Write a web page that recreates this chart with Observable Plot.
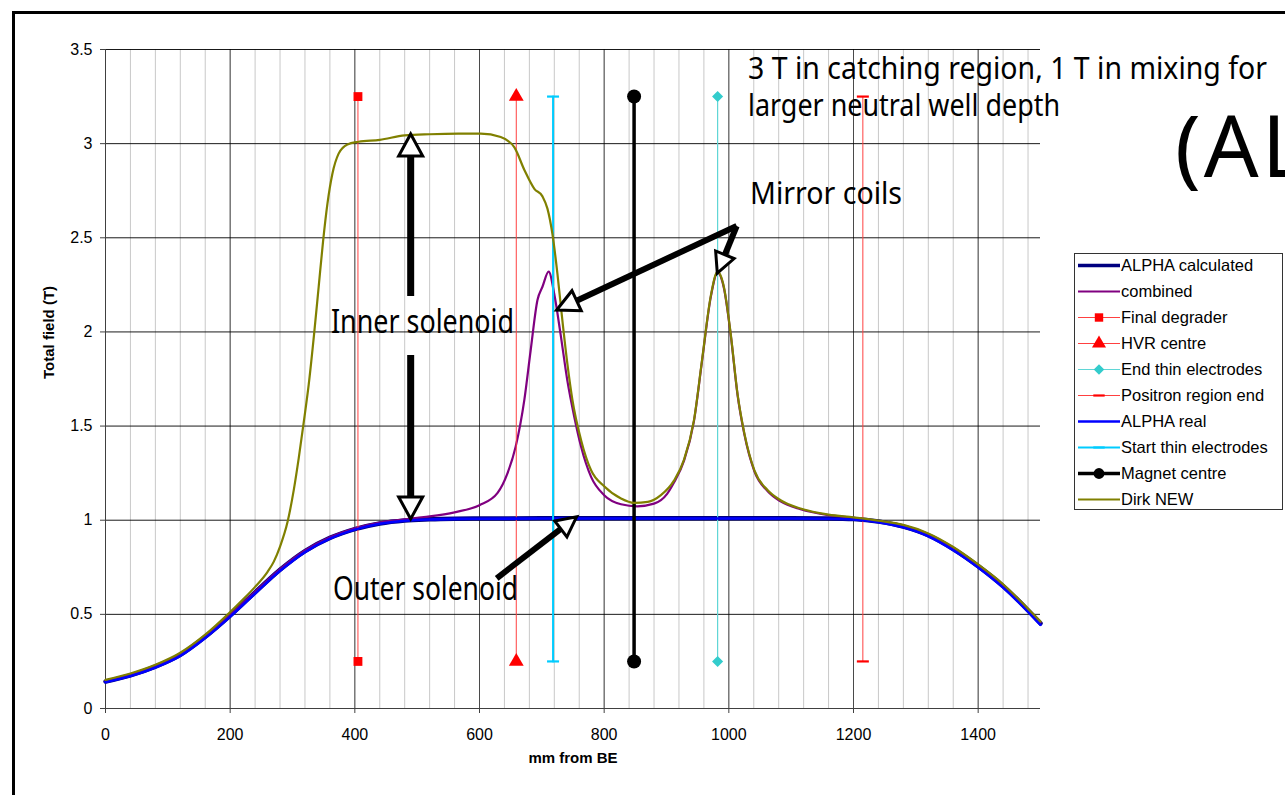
<!DOCTYPE html>
<html>
<head>
<meta charset="utf-8">
<script src="https://cdn.jsdelivr.net/npm/d3@7"></script>
<script src="https://cdn.jsdelivr.net/npm/@observablehq/plot@0.6"></script>
<style>
  html, body { margin: 0; padding: 0; background: #fff; }
  #chart { width: 1285px; height: 795px; overflow: hidden; }
</style>
</head>
<body>
<div id="chart"></div>
<script>
// ---------------- DATA ----------------
const xOuter = [0,40,80,120,160,200,240,280,320,360,400,440,480,520,560,600,700,800,900,1000,1100,1160,1200,1240,1280,1320,1360,1400,1440,1480,1500];
const alphaCalculated = [0.143,0.176,0.222,0.285,0.381,0.494,0.617,0.737,0.836,0.906,0.953,0.983,0.999,1.005,1.008,1.009,1.010,1.010,1.010,1.010,1.010,1.009,1.006,0.993,0.966,0.920,0.847,0.756,0.650,0.522,0.452];
const alphaReal = [0.140,0.172,0.218,0.280,0.375,0.488,0.611,0.731,0.831,0.902,0.950,0.981,0.997,1.004,1.007,1.008,1.009,1.009,1.009,1.009,1.009,1.008,1.004,0.990,0.962,0.915,0.841,0.749,0.642,0.514,0.444];

const xCombined = [0,40,80,120,160,200,240,280,320,360,400,440,480,500,520,560,600,629,645,658,672,682,693,701,711,720,730,741,752,763,779,800,827,853,880,901,912,928,944,957,971,982,992,1003,1014,1025,1041,1062,1083,1115,1160,1200,1240,1280,1320,1360,1400,1440,1480,1500];
const combined = [0.146,0.179,0.225,0.288,0.384,0.497,0.62,0.74,0.839,0.909,0.957,0.988,1.004,1.012,1.02,1.042,1.08,1.145,1.25,1.39,1.64,1.90,2.17,2.24,2.32,2.20,1.99,1.74,1.55,1.39,1.23,1.133,1.085,1.074,1.088,1.14,1.20,1.315,1.525,1.845,2.185,2.315,2.235,1.985,1.665,1.455,1.26,1.155,1.10,1.058,1.027,1.012,0.995,0.972,0.926,0.853,0.76,0.655,0.525,0.457];

const xDirk = [0,40,80,120,160,200,220,240,260,270,280,292,302,310,318,326,335,342,349,356,364,374,388,406,440,480,520,566,602,634,656,672,688,701,709,717,725,733,741,749,763,779,800,827,848,870,891,912,928,944,957,971,982,992,1003,1014,1025,1041,1062,1083,1115,1160,1200,1240,1280,1320,1360,1400,1440,1480,1500];
const dirkNew = [0.152,0.186,0.232,0.296,0.392,0.512,0.577,0.646,0.726,0.78,0.86,0.99,1.16,1.33,1.52,1.72,2.0,2.24,2.48,2.68,2.84,2.947,2.996,3.01,3.02,3.044,3.05,3.053,3.053,3.035,2.98,2.86,2.76,2.72,2.655,2.52,2.31,2.06,1.83,1.64,1.425,1.265,1.18,1.115,1.092,1.097,1.133,1.21,1.32,1.53,1.85,2.19,2.32,2.24,1.99,1.67,1.46,1.265,1.16,1.106,1.062,1.03,1.015,0.998,0.975,0.93,0.858,0.765,0.66,0.53,0.462];

const markerNames = ["Final degrader","HVR centre","End thin electrodes","Positron region end","Start thin electrodes","Magnet centre"];
const markerX = [405, 659, 982, 1215, 718, 848];
const markerEnds = [0.25, 3.25];

const xTicks = [0,200,400,600,800,1000,1200,1400];
const yTicks = [0,0.5,1,1.5,2,2.5,3,3.5];
const legendNames = ["ALPHA calculated","combined","Final degrader","HVR centre","End thin electrodes","Positron region end","ALPHA real","Start thin electrodes","Magnet centre","Dirk NEW"];

// ---------------- STYLES ----------------
const dashSymbol = { draw(ctx, size) { const h = Math.sqrt(size / Math.PI); ctx.moveTo(-h, 0); ctx.lineTo(h, 0); } };
const styles = {
  "ALPHA calculated": {stroke: "#000080", w: 4.5},
  "combined": {stroke: "#800080", w: 2.2},
  "Final degrader": {stroke: "#ff4040", w: 1, sym: d3.symbolSquare, fill: "#ff0000", r: 5},
  "HVR centre": {stroke: "#ff4040", w: 1, sym: d3.symbolTriangle, fill: "#ff0000", r: 5.5},
  "End thin electrodes": {stroke: "#5fd6d6", w: 1.2, sym: d3.symbolDiamond2, fill: "#33cccc", r: 5},
  "Positron region end": {stroke: "#ff4040", w: 1, sym: dashSymbol, fill: "none", mstroke: "#ff0000", r: 6},
  "ALPHA real": {stroke: "#0000ff", w: 2.6},
  "Start thin electrodes": {stroke: "#00ccff", w: 2, sym: dashSymbol, fill: "none", mstroke: "#00ccff", r: 6},
  "Magnet centre": {stroke: "#000000", w: 3.5, sym: d3.symbolCircle, fill: "#000000", r: 7},
  "Dirk NEW": {stroke: "#808000", w: 2.2}
};

// ---------------- TABLES ----------------
const rows = (xs, ys) => xs.map((x, i) => ({x, y: ys[i]}));
const curveTables = {
  "ALPHA calculated": rows(xOuter, alphaCalculated),
  "combined": rows(xCombined, combined),
  "ALPHA real": rows(xOuter, alphaReal),
  "Dirk NEW": rows(xDirk, dirkNew)
};
markerNames.forEach((n, i) => { curveTables[n] = markerEnds.map(y => ({x: markerX[i], y})); });

const drawOrder = legendNames; // Excel series order
const seriesMarks = [];
for (const name of drawOrder) {
  const s = styles[name];
  seriesMarks.push(Plot.line(curveTables[name], {x: "x", y: "y", stroke: s.stroke, strokeWidth: s.w, curve: s.sym ? "linear" : "monotone-x"}));
  if (s.sym) {
    seriesMarks.push(Plot.dot(curveTables[name], {x: "x", y: "y", symbol: s.sym, r: s.r, fill: s.fill,
      stroke: s.mstroke || "none", strokeWidth: s.mstroke ? 2.2 : 0}));
  }
}

const minorGrid = d3.range(40, 1500, 40);

const chart = Plot.plot({
  width: 1285,
  height: 795,
  marginLeft: 105,
  marginRight: 245,
  marginTop: 49,
  marginBottom: 87,
  style: {fontFamily: "'Liberation Sans', Arial, sans-serif", fontSize: "16px", background: "#fff", color: "#000", overflow: "visible"},
  x: {domain: [0, 1500], label: null},
  y: {domain: [0, 3.5], label: null},
  marks: [
    Plot.gridX(minorGrid, {stroke: "#c8c8c8", strokeOpacity: 1}),
    Plot.gridX(xTicks, {stroke: "#4a4a4a", strokeOpacity: 1}),
    Plot.gridY(yTicks, {stroke: "#000", strokeOpacity: 0.9}),
    Plot.ruleX([0], {stroke: "#404040"}),
    Plot.ruleY([0], {stroke: "#404040"}),
    Plot.axisY(yTicks, {tickSize: 5, tickPadding: 8, tickFormat: d => String(d), fontSize: 16, stroke: "#404040"}),
    Plot.axisX(xTicks, {tickSize: 5, tickPadding: 15, tickFormat: d => String(d), fontSize: 16, stroke: "#404040"}),
    Plot.text(["Total field (T)"], {frameAnchor: "left", dx: -56, rotate: -90, fontWeight: "bold", fontSize: 15, text: d => d}),
    Plot.text(["mm from BE"], {frameAnchor: "bottom", dy: 54, fontWeight: "bold", fontSize: 15, text: d => d}),
    ...seriesMarks
  ]
});
document.getElementById("chart").appendChild(chart);

// ---------------- ANNOTATIONS ----------------
const xs = chart.scale("x"), ys = chart.scale("y");
const X = d3.scaleLinear().domain(xs.domain).range(xs.range);
const Y = d3.scaleLinear().domain(ys.domain).range(ys.range);
const svg = d3.select(chart);

// outer frame
svg.append("rect").attr("x", 13.5).attr("y", 12.5).attr("width", 1320).attr("height", 820)
  .attr("fill", "none").attr("stroke", "#000").attr("stroke-width", 3);

const annotations = [
  {text: "3 T in catching region, 1 T in mixing for", x: 1031.6, y: 3.341, size: 30, width: 519},
  {text: "larger neutral well depth", x: 1031.6, y: 3.144, size: 30, width: 312},
  {text: "Mirror coils", x: 1034.8, y: 2.677, size: 30, width: 152},
  {text: "(AL", x: 1716.6, y: 2.820, size: 86, width: null},
  {text: "Inner solenoid", x: 362.6, y: 1.992, size: 33, width: 183},
  {text: "Outer solenoid", x: 365.8, y: 0.574, size: 33, width: 185}
];
const ag = svg.append("g").attr("font-family", "'Noto Sans', 'DejaVu Sans', sans-serif")
  .attr("fill", "#000").attr("text-anchor", "start");
for (const a of annotations) {
  const t = ag.append("text").attr("x", X(a.x)).attr("y", Y(a.y)).attr("font-size", a.size)
    .attr("text-anchor", "start").text(a.text);
  if (a.width) t.attr("textLength", a.width).attr("lengthAdjust", "spacingAndGlyphs");
  else t.attr("letter-spacing", 3);
}

const arrows = [
  {from: [490.4, 2.188], to: [490.4, 3.049], shaft: 7, len: 22, wid: 24},
  {from: [490.4, 1.875], to: [490.4, 1.004], shaft: 7, len: 22, wid: 24},
  {from: [1013.4, 2.560], to: [724.6, 2.114], shaft: 6, len: 22, wid: 22},
  {from: [1013.4, 2.560], to: [982.3, 2.309], shaft: 6, len: 20, wid: 20},
  {from: [628.4, 0.689], to: [756.7, 1.016], shaft: 6, len: 20, wid: 20}
];
const arg = svg.append("g");
for (const a of arrows) {
  const x1 = X(a.from[0]), y1 = Y(a.from[1]), x2 = X(a.to[0]), y2 = Y(a.to[1]);
  const dx = x2 - x1, dy = y2 - y1, L = Math.hypot(dx, dy);
  const ux = dx / L, uy = dy / L, nx = -uy, ny = ux;
  const bx = x2 - ux * a.len, by = y2 - uy * a.len;
  arg.append("line").attr("x1", x1).attr("y1", y1).attr("x2", bx).attr("y2", by)
    .attr("stroke", "#000").attr("stroke-width", a.shaft);
  const hw = a.wid / 2;
  arg.append("polygon")
    .attr("points", [[x2, y2], [bx + nx * hw, by + ny * hw], [bx - nx * hw, by - ny * hw]].map(p => p.join(",")).join(" "))
    .attr("fill", "#fff").attr("stroke", "#000").attr("stroke-width", 3).attr("stroke-linejoin", "miter");
}

// ---------------- LEGEND ----------------
const lg = svg.append("g").attr("font-family", "'Liberation Sans', Arial, sans-serif")
  .attr("font-size", 16.5).attr("text-anchor", "start");
lg.append("rect").attr("x", 1074.5).attr("y", 253.5).attr("width", 208).attr("height", 256)
  .attr("fill", "#fff").attr("stroke", "#333").attr("stroke-width", 1);
legendNames.forEach((name, i) => {
  const s = styles[name];
  const cy = 265.5 + i * 26;
  lg.append("line").attr("x1", 1078).attr("x2", 1120).attr("y1", cy).attr("y2", cy)
    .attr("stroke", s.stroke).attr("stroke-width", Math.min(s.w, 3.5));
  if (s.sym) {
    lg.append("path").attr("transform", `translate(1099,${cy})`)
      .attr("d", d3.symbol(s.sym, Math.PI * s.r * s.r * (s.sym === d3.symbolCircle ? 0.6 : 0.9))())
      .attr("fill", s.fill).attr("stroke", s.mstroke || "none").attr("stroke-width", s.mstroke ? 2.2 : 0);
  }
  lg.append("text").attr("x", 1121).attr("y", cy).attr("dy", "0.36em").attr("fill", "#000")
    .attr("text-anchor", "start").text(name);
});
</script>
</body>
</html>
